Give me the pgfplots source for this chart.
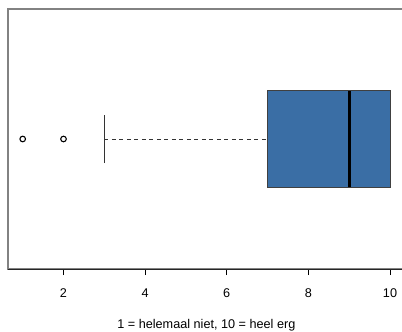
\documentclass[border=0pt]{standalone}
\usepackage{fontspec}
\setmainfont{Liberation Sans}
\usepackage{pgfplots}
\pgfplotsset{compat=1.18}
\definecolor{boxblue}{RGB}{58,110,165}
\definecolor{framegray}{RGB}{130,130,130}
\begin{document}
\begin{tikzpicture}[x=1bp,y=1bp]
\begin{axis}[
  at={(8bp,63bp)}, anchor=south west,
  scale only axis, width=396.7bp, height=260bp,
  xmin=0.64, xmax=10.36, ymin=0.46, ymax=1.54,
  clip=false,
  axis line style={draw=none},
  xtick={2,4,6,8,10}, ytick=\empty,
  xtick pos=bottom, tick align=outside,
  major tick length=6bp,
  tick style={black, line width=0.6bp},
  /pgf/number format/assume math mode=true,
  xticklabel style={font=\fontsize{12.7}{15}\selectfont, yshift=-10bp},
  xlabel={1 = helemaal niet, 10 = heel erg},
  xlabel style={font=\fontsize{12.7}{15}\selectfont, yshift=-15bp},
]
\draw[framegray, line width=1.6bp] (rel axis cs:0,0) rectangle (rel axis cs:1,1);
\draw[black!85, line width=0.8bp] (rel axis cs:0,0) -- (rel axis cs:1,0);
% box (lower quartile 7, upper quartile 10)
\addplot[fill=boxblue, draw=black!75, line width=0.8bp] coordinates {(7,0.8) (10,0.8) (10,1.2) (7,1.2)} -- cycle;
% median
\addplot[black, line width=3bp] coordinates {(9,0.8) (9,1.2)};
% lower whisker
\addplot[black!80, line width=0.9bp, dash pattern=on 4bp off 3.5bp] coordinates {(3,1) (7,1)};
% whisker cap
\addplot[black!80, line width=0.9bp] coordinates {(3,0.9) (3,1.1)};
% outliers
\addplot[only marks, mark=o, mark size=2.8bp, mark options={black, line width=1.1bp}] coordinates {(1,1) (2,1)};
\end{axis}
\pgfresetboundingbox
\useasboundingbox (0,0) rectangle (402bp,332bp);
\end{tikzpicture}
\end{document}
